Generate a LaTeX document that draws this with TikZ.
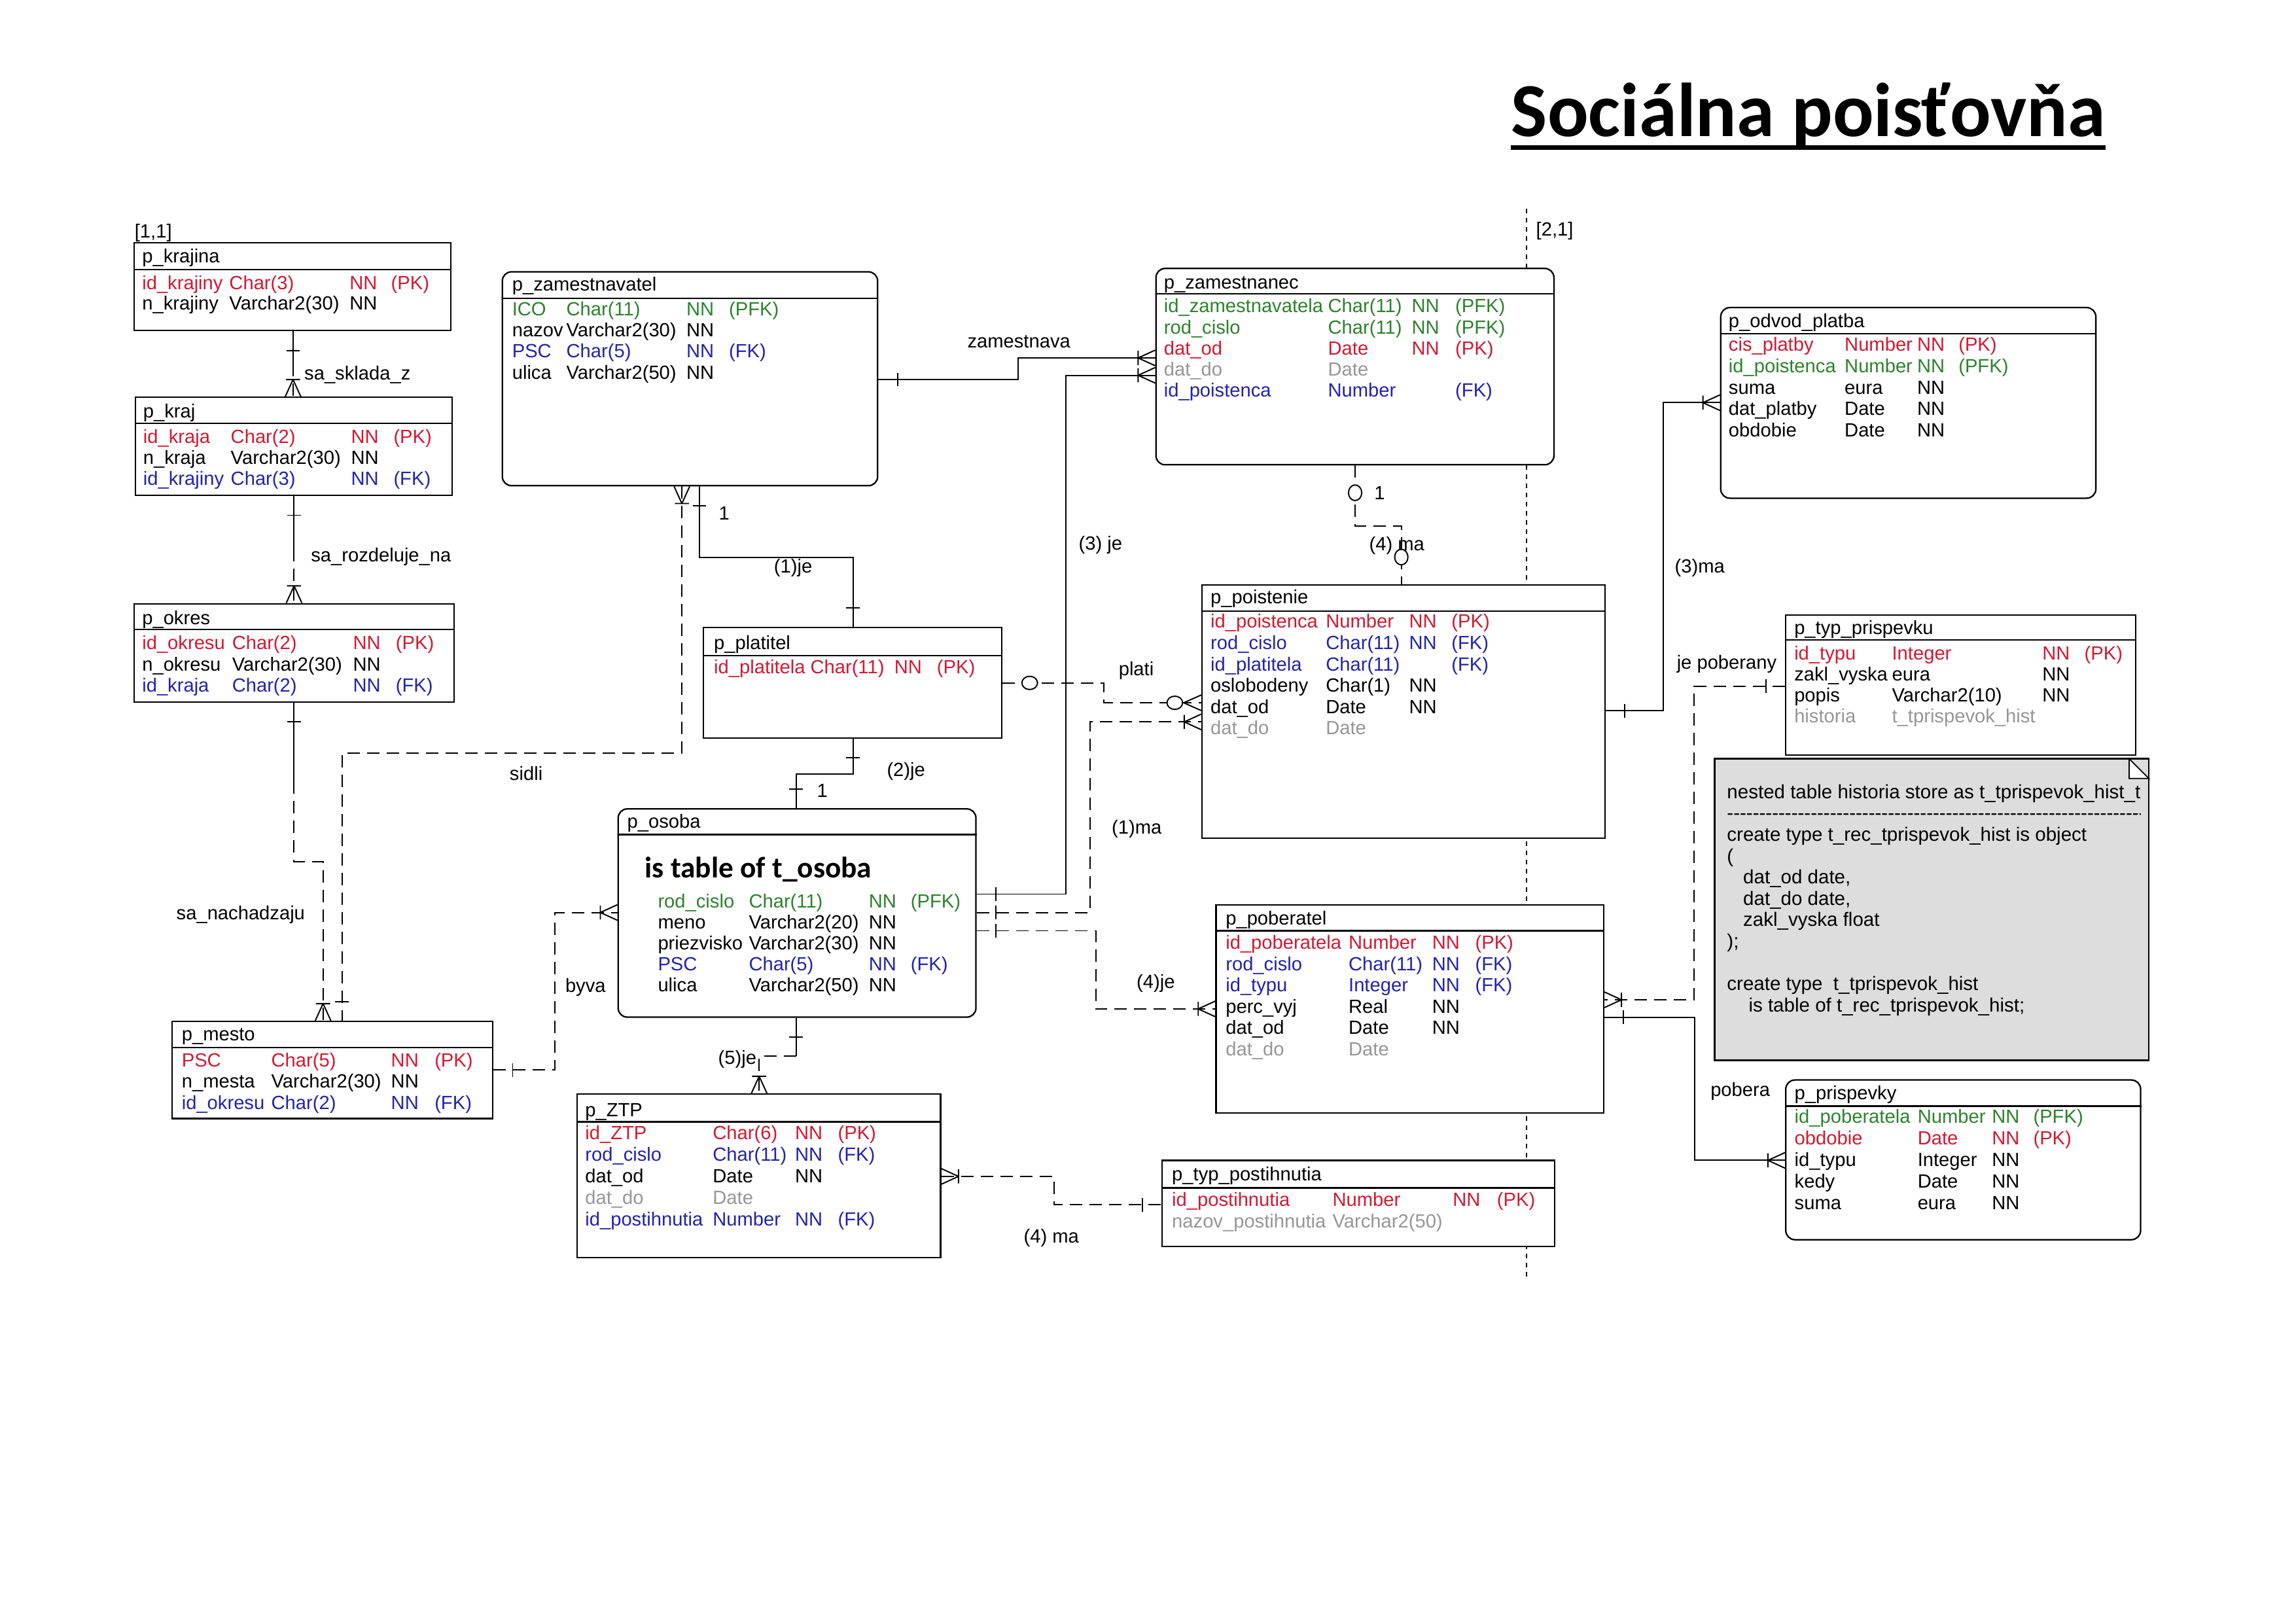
\documentclass[tikz,border=0pt]{standalone}
\usepackage{fontspec}
\setmainfont{Liberation Sans}
\newfontfamily\headfont{Carlito}
\usetikzlibrary{fit,positioning}
\definecolor{pkred}{RGB}{210,25,50}
\definecolor{fkblue}{RGB}{35,35,170}
\definecolor{pfkgreen}{RGB}{45,130,45}
\definecolor{optgray}{RGB}{150,150,150}
\definecolor{notegray}{RGB}{221,221,221}
\tikzset{%
	tbl/.style      = {draw, fill=white, inner sep=0pt, line width=0.65pt},
	rtbl/.style     = {tbl, rounded corners=1.4mm},
	notebox/.style  = {draw, fill=notegray, inner sep=0pt, line width=0.65pt},
	cell/.style     = {anchor=base west, inner sep=0pt, font=\fontsize{8.3}{10}\selectfont},
	notetxt/.style  = {cell, font=\fontsize{8.4}{10}\selectfont},
	pkey/.style     = {text=pkred},
	fkey/.style     = {text=fkblue},
	pfkey/.style    = {text=pfkgreen},
	optcol/.style   = {text=optgray},
	plaincol/.style = {text=black},
	rel/.style      = {line width=0.55pt},
	optrel/.style   = {rel, dash pattern=on 1.9mm off 1.1mm},
	pageline/.style = {line width=0.45pt, dash pattern=on 0.7mm off 0.7mm},
	onebar/.pic     = {\draw[solid,line width=0.55pt] (-13,-4.6) -- (-13,4.6);},
	crowbar/.pic    = {\draw[solid,line width=0.55pt] (-11.6,0) -- (0,-5.3) (-11.6,0) -- (0,5.3) (-11.6,-4.8) -- (-11.6,4.8);},
	zerocirc/.pic   = {\draw[solid,line width=0.55pt,fill=white] (-18.5,0) ellipse [x radius=5.3, y radius=4.5];},
	crowzero/.pic   = {\draw[solid,line width=0.55pt] (-12,0) -- (0,-5.3) (-12,0) -- (0,5.3);
	                   \draw[solid,line width=0.55pt,fill=white] (-18,0) ellipse [x radius=5.3, y radius=4.5];},
}
\newcommand{\colx}[4]{\def\cola{#1}\def\colb{#2}\def\colc{#3}\def\cold{#4}}
\newcommand{\attrow}[7]{%
	\node[cell,#2] (#1a) at (\cola,#3) {#4};
	\node[cell,#2] (#1b) at (\colb,#3) {#5};
	\node[cell,#2] (#1c) at (\colc,#3) {#6};
	\node[cell,#2] (#1d) at (\cold,#3) {#7};}
\newcommand{\hdr}[2]{\draw[line width=0.65pt] (#1.west |- 0,#2) -- (#1.east |- 0,#2);}

\begin{document}
\begin{tikzpicture}[x=0.022494cm, y=-0.022494cm]
	\useasboundingbox (0,0) rectangle (1560,1103);
	% title
	\node[cell, font=\headfont\bfseries\fontsize{33.2}{36}\selectfont] (title) at (1026.6,92.5) {Sociálna poisťovňa};
	\draw[line width=1.9pt] (title.west |- 0,100.2) -- (title.east |- 0,100.2);
	% page marks
	\node[cell] (page11) at (91.2,161.6) {[1,1]};
	\node[cell] (page21) at (1043.4,160.4) {[2,1]};
	\draw[pageline] (1037.2,142) -- (1037.2,867.8);

	% p_krajina
	\node[tbl, fit={(91.2,164.9) (306.2,224.6)}] (krajina) {};
	\hdr{krajina}{183.3}
	\node[cell] (krajina-t) at (96.3,178.5) {p\_krajina};
	\colx{96.3}{155.5}{237.2}{265.4}
	\attrow{kja1}{pkey}{196.7}{id\_krajiny}{Char(3)}{NN}{(PK)}
	\attrow{kja2}{plaincol}{210.3}{n\_krajiny}{Varchar2(30)}{NN}{}

	% p_kraj
	\node[tbl, fit={(91.9,270) (307.2,336.6)}] (kraj) {};
	\hdr{kraj}{287.6}
	\node[cell] (kraj-t) at (97,284) {p\_kraj};
	\colx{97}{156.5}{238.2}{267.1}
	\attrow{kr1}{pkey}{301}{id\_kraja}{Char(2)}{NN}{(PK)}
	\attrow{kr2}{plaincol}{315.4}{n\_kraja}{Varchar2(30)}{NN}{}
	\attrow{kr3}{fkey}{329.8}{id\_krajiny}{Char(3)}{NN}{(FK)}

	% p_okres
	\node[tbl, fit={(91.2,410.2) (308.6,477)}] (okres) {};
	\hdr{okres}{427.8}
	\node[cell] (okres-t) at (96.3,424.5) {p\_okres};
	\colx{96.3}{157.4}{239.6}{268.6}
	\attrow{ok1}{pkey}{441.4}{id\_okresu}{Char(2)}{NN}{(PK)}
	\attrow{ok2}{plaincol}{455.8}{n\_okresu}{Varchar2(30)}{NN}{}
	\attrow{ok3}{fkey}{470.2}{id\_kraja}{Char(2)}{NN}{(FK)}

	% p_mesto
	\node[tbl, fit={(116.9,694) (334.8,760)}] (mesto) {};
	\hdr{mesto}{711.7}
	\node[cell] (mesto-t) at (123.2,707.3) {p\_mesto};
	\colx{123.2}{184}{265.4}{295}
	\attrow{ms1}{pkey}{724.8}{PSC}{Char(5)}{NN}{(PK)}
	\attrow{ms2}{plaincol}{739.2}{n\_mesta}{Varchar2(30)}{NN}{}
	\attrow{ms3}{fkey}{753.6}{id\_okresu}{Char(2)}{NN}{(FK)}

	% p_zamestnavatel
	\node[rtbl, fit={(341.3,184.7) (596.3,330)}] (zamestnavatel) {};
	\hdr{zamestnavatel}{202.8}
	\node[cell] (zamestnavatel-t) at (347.7,197.8) {p\_zamestnavatel};
	\colx{347.7}{384.5}{466.1}{495}
	\attrow{zv1}{pfkey}{214.3}{ICO}{Char(11)}{NN}{(PFK)}
	\attrow{zv2}{plaincol}{228.7}{nazov}{Varchar2(30)}{NN}{}
	\attrow{zv3}{fkey}{243.1}{PSC}{Char(5)}{NN}{(FK)}
	\attrow{zv4}{plaincol}{257.5}{ulica}{Varchar2(50)}{NN}{}

	% p_platitel
	\node[tbl, fit={(478,426.5) (680.6,501.5)}] (platitel) {};
	\hdr{platitel}{445.6}
	\node[cell] (platitel-t) at (484.8,441.2) {p\_platitel};
	\colx{484.8}{550.3}{607.3}{636.3}
	\attrow{pt1}{pkey}{457.8}{id\_platitela}{Char(11)}{NN}{(PK)}

	% p_osoba
	\node[rtbl, fit={(420,549.6) (663.1,691.1)}] (osoba) {};
	\hdr{osoba}{567.1}
	\node[cell] (osoba-t) at (425.9,562.5) {p\_osoba};
	\node[cell, font=\headfont\bfseries\fontsize{12.9}{14}\selectfont] (osoba-is) at (437.9,596.2) {is table of t\_osoba};
	\colx{446.7}{508.5}{590}{618.5}
	\attrow{os1}{pfkey}{616.8}{rod\_cislo}{Char(11)}{NN}{(PFK)}
	\attrow{os2}{plaincol}{631}{meno}{Varchar2(20)}{NN}{}
	\attrow{os3}{plaincol}{645.2}{priezvisko}{Varchar2(30)}{NN}{}
	\attrow{os4}{fkey}{659.4}{PSC}{Char(5)}{NN}{(FK)}
	\attrow{os5}{plaincol}{673.6}{ulica}{Varchar2(50)}{NN}{}

	% p_ZTP
	\node[tbl, fit={(392,743.4) (639.1,854.5)}] (ztp) {};
	\hdr{ztp}{762.2}
	\node[cell] (ztp-t) at (397.3,758.8) {p\_ZTP};
	\colx{397.3}{484}{539.9}{569}
	\attrow{zt1}{pkey}{774.3}{id\_ZTP}{Char(6)}{NN}{(PK)}
	\attrow{zt2}{fkey}{788.9}{rod\_cislo}{Char(11)}{NN}{(FK)}
	\attrow{zt3}{plaincol}{803.5}{dat\_od}{Date}{NN}{}
	\attrow{zt4}{optcol}{818.1}{dat\_do}{Date}{}{}
	\attrow{zt5}{fkey}{832.7}{id\_postihnutia}{Number}{NN}{(FK)}

	% p_zamestnanec
	\node[rtbl, fit={(785.4,182.4) (1055.8,315.8)}] (zamestnanec) {};
	\hdr{zamestnanec}{199.6}
	\node[cell] (zamestnanec-t) at (790.5,196.2) {p\_zamestnanec};
	\colx{790.5}{902}{958.9}{988.5}
	\attrow{zc1}{pfkey}{212.5}{id\_zamestnavatela}{Char(11)}{NN}{(PFK)}
	\attrow{zc2}{pfkey}{226.8}{rod\_cislo}{Char(11)}{NN}{(PFK)}
	\attrow{zc3}{pkey}{241.1}{dat\_od}{Date}{NN}{(PK)}
	\attrow{zc4}{optcol}{255.4}{dat\_do}{Date}{}{}
	\attrow{zc5}{fkey}{269.7}{id\_poistenca}{Number}{}{(FK)}

	% p_poistenie
	\node[tbl, fit={(816.7,397.5) (1090.5,569.5)}] (poistenie) {};
	\hdr{poistenie}{415.1}
	\node[cell] (poistenie-t) at (822.2,409.9) {p\_poistenie};
	\colx{822.2}{900.5}{957.1}{985.9}
	\attrow{ps1}{pkey}{426.7}{id\_poistenca}{Number}{NN}{(PK)}
	\attrow{ps2}{fkey}{441.2}{rod\_cislo}{Char(11)}{NN}{(FK)}
	\attrow{ps3}{fkey}{455.7}{id\_platitela}{Char(11)}{}{(FK)}
	\attrow{ps4}{plaincol}{470.2}{oslobodeny}{Char(1)}{NN}{}
	\attrow{ps5}{plaincol}{484.7}{dat\_od}{Date}{NN}{}
	\attrow{ps6}{optcol}{499.2}{dat\_do}{Date}{}{}

	% p_poberatel
	\node[tbl, fit={(826.2,614.7) (1089.6,756.3)}] (poberatel) {};
	\hdr{poberatel}{632.4}
	\node[cell] (poberatel-t) at (832.5,628.4) {p\_poberatel};
	\colx{832.5}{916}{972.8}{1002}
	\attrow{pb1}{pkey}{644.8}{id\_poberatela}{Number}{NN}{(PK)}
	\attrow{pb2}{fkey}{659.3}{rod\_cislo}{Char(11)}{NN}{(FK)}
	\attrow{pb3}{fkey}{673.8}{id\_typu}{Integer}{NN}{(FK)}
	\attrow{pb4}{plaincol}{688.3}{perc\_vyj}{Real}{NN}{}
	\attrow{pb5}{plaincol}{702.8}{dat\_od}{Date}{NN}{}
	\attrow{pb6}{optcol}{717.3}{dat\_do}{Date}{}{}

	% p_typ_postihnutia
	\node[tbl, fit={(789.7,788.4) (1056.2,847)}] (typpost) {};
	\hdr{typpost}{807.1}
	\node[cell] (typpost-t) at (796,802.4) {p\_typ\_postihnutia};
	\colx{796}{905.1}{986.8}{1016.8}
	\attrow{tp1}{pkey}{819.6}{id\_postihnutia}{Number}{NN}{(PK)}
	\attrow{tp2}{optcol}{834.2}{nazov\_postihnutia}{Varchar2(50)}{}{}

	% p_odvod_platba
	\node[rtbl, fit={(1169.1,209) (1424,338.5)}] (odvod) {};
	\hdr{odvod}{226.8}
	\node[cell] (odvod-t) at (1174.2,222.5) {p\_odvod\_platba};
	\colx{1174.2}{1253}{1302.3}{1330.4}
	\attrow{od1}{pkey}{238.7}{cis\_platby}{Number}{NN}{(PK)}
	\attrow{od2}{pfkey}{253.2}{id\_poistenca}{Number}{NN}{(PFK)}
	\attrow{od3}{plaincol}{267.7}{suma}{eura}{NN}{}
	\attrow{od4}{plaincol}{282.2}{dat\_platby}{Date}{NN}{}
	\attrow{od5}{plaincol}{296.7}{obdobie}{Date}{NN}{}

	% p_typ_prispevku
	\node[tbl, fit={(1213.3,418) (1451.1,513)}] (typprisp) {};
	\hdr{typprisp}{434.8}
	\node[cell] (typprisp-t) at (1218.8,430.8) {p\_typ\_prispevku};
	\colx{1218.8}{1285.2}{1387.3}{1415.9}
	\attrow{ty1}{pkey}{448.4}{id\_typu}{Integer}{NN}{(PK)}
	\attrow{ty2}{plaincol}{462.6}{zakl\_vyska}{eura}{NN}{}
	\attrow{ty3}{plaincol}{476.8}{popis}{Varchar2(10)}{NN}{}
	\attrow{ty4}{optcol}{491}{historia}{t\_tprispevok\_hist}{}{}

	% note
	\node[notebox, fit={(1165,515.5) (1460,720.4)}] (note) {};
	\draw[line width=0.5pt, fill=white] (1446.6,515.5) -- (1446.6,528.9) -- (1460,528.9) -- cycle;
	\begin{scope}
		\clip (note.south west) rectangle (1454.4,515.5);
		\node[notetxt] (n1) at (1173.1,542.5) {nested table historia store as t\_tprispevok\_hist\_tab};
		\node[notetxt] (n2) at (1173.1,557) {\foreach \k in {1,...,72}{-\kern0pt}};
	\end{scope}
	\node[notetxt] (n3) at (1173.1,571.5) {create type t\_rec\_tprispevok\_hist is object};
	\node[notetxt] (n4) at (1173.1,586) {(};
	\node[notetxt] (n5) at (1184.1,600.5) {dat\_od date,};
	\node[notetxt] (n6) at (1184.1,615) {dat\_do date,};
	\node[notetxt] (n7) at (1184.1,629.5) {zakl\_vyska float};
	\node[notetxt] (n8) at (1173.1,644) {);};
	\node[notetxt] (n9) at (1173.1,673) {create type~ t\_tprispevok\_hist};
	\node[notetxt] (n10) at (1187.8,687.5) {is table of t\_rec\_tprispevok\_hist;};

	% p_prispevky
	\node[rtbl, fit={(1213.3,733.8) (1454.4,842.3)}] (prispevky) {};
	\hdr{prispevky}{751.6}
	\node[cell] (prispevky-t) at (1219,746.9) {p\_prispevky};
	\colx{1219}{1302.6}{1353.1}{1381.2}
	\attrow{pr1}{pfkey}{763.3}{id\_poberatela}{Number}{NN}{(PFK)}
	\attrow{pr2}{pkey}{777.9}{obdobie}{Date}{NN}{(PK)}
	\attrow{pr3}{plaincol}{792.5}{id\_typu}{Integer}{NN}{}
	\attrow{pr4}{plaincol}{807.1}{kedy}{Date}{NN}{}
	\attrow{pr5}{plaincol}{821.7}{suma}{eura}{NN}{}

	% relations
	\coordinate (sk-a) at (199.1,0 |- krajina.south);
	\coordinate (sk-m) at (199.1,247.3);
	\coordinate (sk-b) at (199.1,0 |- kraj.north);
	\draw[rel] (sk-a) -- (sk-m);
	\draw[optrel] (sk-m) -- (sk-b);
	\pic[rotate=90] at (sk-a) {onebar};
	\pic[rotate=-90] at (sk-b) {crowbar};
	\node[cell] (sk-l) at (206.5,258) {sa\_sklada\_z};

	\coordinate (rz-a) at (199.8,0 |- kraj.south);
	\coordinate (rz-m) at (199.8,373);
	\coordinate (rz-b) at (199.8,0 |- okres.north);
	\draw[rel] (rz-a) -- (rz-m);
	\draw[optrel] (rz-m) -- (rz-b);
	\pic[rotate=90] at (rz-a) {onebar};
	\pic[rotate=-90] at (rz-b) {crowbar};
	\node[cell] (rz-l) at (211,381.6) {sa\_rozdeluje\_na};

	\coordinate (nz-a) at (199.8,0 |- okres.south);
	\coordinate (nz-m) at (199.8,531);
	\coordinate (nz-b) at (219.5,0 |- mesto.north);
	\draw[rel] (nz-a) -- (nz-m);
	\draw[optrel] (nz-m) |- (219.5,585.5) -- (nz-b);
	\pic[rotate=90] at (nz-a) {onebar};
	\pic[rotate=-90] at (nz-b) {crowbar};
	\node[cell] (nz-l) at (119.6,625) {sa\_nachadzaju};

	\coordinate (sd-a) at (463.3,0 |- zamestnavatel.south);
	\coordinate (sd-b) at (232.3,0 |- mesto.north);
	\draw[optrel] (sd-a) |- (232.3,511.7) -- (sd-b);
	\pic[rotate=90] at (sd-a) {crowbar};
	\pic[rotate=-90] at (sd-b) {onebar};
	\node[cell] (sd-l) at (346,530) {sidli};

	\coordinate (je1-a) at (475.3,0 |- zamestnavatel.south);
	\coordinate (je1-b) at (579.6,0 |- platitel.north);
	\draw[rel] (je1-a) |- (579.6,378.8) -- (je1-b);
	\pic[rotate=90] at (je1-a) {onebar};
	\pic[rotate=-90] at (je1-b) {onebar};
	\node[cell] (je1-l) at (525.6,389.4) {(1)je};
	\node[cell] (je1-n) at (488.1,353.2) {1};

	\coordinate (je2-a) at (579.6,0 |- platitel.south);
	\coordinate (je2-b) at (540.9,0 |- osoba.north);
	\draw[rel] (je2-a) |- (540.9,525.8) -- (je2-b);
	\pic[rotate=90] at (je2-a) {onebar};
	\pic[rotate=-90] at (je2-b) {onebar};
	\node[cell] (je2-l) at (602.3,527.3) {(2)je};
	\node[cell] (je2-n) at (554.8,541.9) {1};

	\coordinate (zm-a) at (zamestnavatel.east |- 0,257.9);
	\coordinate (zm-b) at (zamestnanec.west |- 0,243.2);
	\draw[rel] (zm-a) -| (691.9,243.2) -- (zm-b);
	\pic[rotate=180] at (zm-a) {onebar};
	\pic at (zm-b) {crowbar};
	\node[cell] (zm-l) at (657,236.4) {zamestnava};

	\coordinate (je3-a) at (osoba.east |- 0,607.5);
	\coordinate (je3-b) at (zamestnanec.west |- 0,255);
	\draw[rel] (je3-a) -| (724.2,255) -- (je3-b);
	\pic[rotate=180] at (je3-a) {onebar};
	\pic at (je3-b) {crowbar};
	\node[cell] (je3-l) at (732.6,373.6) {(3) je};

	\coordinate (ma4-a) at (920.7,0 |- zamestnanec.south);
	\coordinate (ma4-b) at (952.1,0 |- poistenie.north);
	\draw[optrel] (ma4-a) |- (952.1,357.3) -- (ma4-b);
	\pic[rotate=90] at (ma4-a) {zerocirc};
	\pic[rotate=-90] at (ma4-b) {zerocirc};
	\node[cell] (ma4-l) at (930,374) {(4) ma};
	\node[cell] (ma4-n) at (933.4,339.6) {1};

	\coordinate (pl-a) at (platitel.east |- 0,464);
	\coordinate (pl-b) at (poistenie.west |- 0,477.5);
	\draw[optrel] (pl-a) -| (749.8,477.5) -- (pl-b);
	\pic[rotate=180] at (pl-a) {zerocirc};
	\pic at (pl-b) {crowzero};
	\node[cell] (pl-l) at (759.8,458.8) {plati};

	\coordinate (ma1-a) at (osoba.east |- 0,620);
	\coordinate (ma1-b) at (poistenie.west |- 0,490.5);
	\draw[optrel] (ma1-a) -| (740.5,490.5) -- (ma1-b);
	\pic[rotate=180] at (ma1-a) {onebar};
	\pic at (ma1-b) {crowbar};
	\node[cell] (ma1-l) at (755.1,566.4) {(1)ma};

	\coordinate (je4-a) at (osoba.east |- 0,632.4);
	\coordinate (je4-b) at (poberatel.west |- 0,685.5);
	\draw[optrel] (je4-a) -| (744.5,685.5) -- (je4-b);
	\pic[rotate=180] at (je4-a) {onebar};
	\pic at (je4-b) {crowbar};
	\node[cell] (je4-l) at (772,671.3) {(4)je};

	\coordinate (bv-a) at (mesto.east |- 0,727);
	\coordinate (bv-b) at (osoba.west |- 0,620);
	\draw[optrel] (bv-a) -| (377,620) -- (bv-b);
	\pic[rotate=180] at (bv-a) {onebar};
	\pic at (bv-b) {crowbar};
	\node[cell] (bv-l) at (383.8,674.4) {byva};

	\coordinate (je5-a) at (540.9,0 |- osoba.south);
	\coordinate (je5-m) at (540.9,717.6);
	\coordinate (je5-b) at (515.8,0 |- ztp.north);
	\draw[rel] (je5-a) -- (je5-m);
	\draw[optrel] (je5-m) -- (515.8,717.6) -- (je5-b);
	\pic[rotate=90] at (je5-a) {onebar};
	\pic[rotate=-90] at (je5-b) {crowbar};
	\node[cell] (je5-l) at (487.7,722.9) {(5)je};

	\coordinate (ma5-a) at (ztp.east |- 0,799.3);
	\coordinate (ma5-b) at (typpost.west |- 0,818.6);
	\draw[optrel] (ma5-a) -| (716.2,818.6) -- (ma5-b);
	\pic[rotate=180] at (ma5-a) {crowbar};
	\pic at (ma5-b) {onebar};
	\node[cell] (ma5-l) at (695.3,844.5) {(4) ma};

	\coordinate (ma3-a) at (poistenie.east |- 0,483);
	\coordinate (ma3-b) at (odvod.west |- 0,273.6);
	\draw[rel] (ma3-a) -| (1130,273.6) -- (ma3-b);
	\pic[rotate=180] at (ma3-a) {onebar};
	\pic at (ma3-b) {crowbar};
	\node[cell] (ma3-l) at (1137.6,389.2) {(3)ma};

	\coordinate (jp-a) at (typprisp.west |- 0,466.2);
	\coordinate (jp-b) at (poberatel.east |- 0,679.3);
	\draw[optrel] (jp-a) -| (1151,679.3) -- (jp-b);
	\pic at (jp-a) {onebar};
	\pic[rotate=180] at (jp-b) {crowbar};
	\node[cell] (jp-l) at (1139,454.6) {je poberany};

	\coordinate (pb-a) at (poberatel.east |- 0,691.1);
	\coordinate (pb-b) at (prispevky.west |- 0,788.4);
	\draw[rel] (pb-a) -| (1151.3,788.4) -- (pb-b);
	\pic[rotate=180] at (pb-a) {onebar};
	\pic at (pb-b) {crowbar};
	\node[cell] (pb-l) at (1161.9,744.7) {pobera};
\end{tikzpicture}
\end{document}
